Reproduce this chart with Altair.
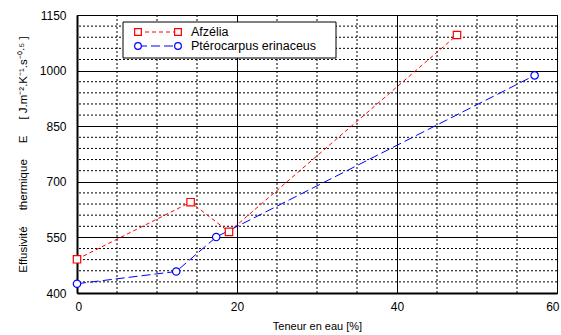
import altair as alt
import pandas as pd

FONT = "Liberation Sans"

# ---- data ----
series_names = ["Afzélia", "Ptérocarpus erinaceus"]
series_colors = ["#ff0000", "#0000ff"]
afz_x = [0, 14.2, 19.0, 47.5]
afz_y = [491, 645, 565, 1096]
pte_x = [0, 12.4, 17.4, 57.2]
pte_y = [425, 458, 551, 987]

x_major = [0, 20, 40, 60]
y_major = [400, 550, 700, 850, 1000, 1150]
x_minor = [5, 10, 15, 25, 30, 35, 45, 50, 55]
y_minor = [430, 460, 490, 520, 580, 610, 640, 670, 730, 760, 790, 820,
           880, 910, 940, 970, 1030, 1060, 1090, 1120]

df = pd.DataFrame({
    "serie": [series_names[0]] * len(afz_x) + [series_names[1]] * len(pte_x),
    "x": afz_x + pte_x,
    "y": afz_y + pte_y,
})

xs = alt.Scale(domain=[0, 60], nice=False, zero=False)
ys = alt.Scale(domain=[400, 1150], nice=False, zero=False)
cs = alt.Scale(domain=series_names, range=series_colors)

NB = "\u00a0"
y_title = ("Effusivité" + NB * 5 + "thermique" + NB * 5 + "E" + NB * 5 +
           "[" + NB + "J.m⁻².K⁻¹.s⁻⁰·⁵" + NB + "]")

x_axis = alt.Axis(values=x_major, grid=True, gridColor="#000000", gridWidth=1,
                  ticks=False, labelPadding=8, labelFontSize=12, labelFont=FONT,
                  labelColor="#000", domainColor="#000", domainWidth=2, format="d",
                  title="Teneur en eau [%]", titleFontSize=11, titleFont=FONT,
                  titleFontWeight="normal", titlePadding=8, titleColor="#000",
                  labelFlush=True, labelFlushOffset=2)
y_axis = alt.Axis(values=y_major, grid=True, gridColor="#000000", gridWidth=1,
                  ticks=False, labelPadding=11, labelFontSize=12, labelFont=FONT,
                  labelColor="#000", domainColor="#000", domainWidth=2, format="d",
                  title=y_title,
                  titleFontSize=11.5, titleFont=FONT, titleFontWeight="normal",
                  titlePadding=11, titleColor="#000", labelFlush=False)

one = pd.DataFrame({"k": [0]})

hminor = alt.Chart(pd.DataFrame({"v": y_minor})).mark_rule(
    color="#000", strokeDash=[2, 2], strokeWidth=1
).encode(y=alt.Y("v:Q", scale=ys, axis=y_axis))

vminor = alt.Chart(pd.DataFrame({"v": x_minor})).mark_rule(
    color="#000", strokeDash=[2, 2], strokeWidth=1
).encode(x=alt.X("v:Q", scale=xs, axis=x_axis))

lines = alt.Chart(df).mark_line(strokeWidth=1).encode(
    x=alt.X("x:Q", scale=xs, axis=x_axis),
    y=alt.Y("y:Q", scale=ys, axis=y_axis),
    color=alt.Color("serie:N", scale=cs, legend=None),
    strokeDash=alt.StrokeDash("serie:N", scale=alt.Scale(domain=series_names, range=[[4, 3], [9, 4]]), legend=None),
)

points = alt.Chart(df).mark_point(fill="white", fillOpacity=1, opacity=1, strokeWidth=1.2, size=55).encode(
    x=alt.X("x:Q", scale=xs, axis=x_axis),
    y=alt.Y("y:Q", scale=ys, axis=y_axis),
    stroke=alt.Stroke("serie:N", scale=cs, legend=None),
    shape=alt.Shape("serie:N", scale=alt.Scale(domain=series_names, range=["square", "circle"]), legend=None),
)

# ---- legend (decoration) ----
leg = [alt.Chart(one).mark_rect(fill="white", stroke="#000", strokeWidth=1).encode(
    x=alt.value(46), x2=alt.value(259), y=alt.value(7), y2=alt.value(43))]
rows = [(17, series_names[0], series_colors[0], [4, 3], "square"),
        (31, series_names[1], series_colors[1], [9, 4], "circle")]
for yy, name, col, dash, shp in rows:
    leg.append(alt.Chart(one).mark_rule(color=col, strokeDash=dash, strokeWidth=1).encode(
        x=alt.value(61), x2=alt.value(101), y=alt.value(yy)))
    for xx in (61, 101):
        leg.append(alt.Chart(one).mark_point(shape=shp, stroke=col, fill="white", fillOpacity=1,
                                             opacity=1, strokeWidth=1.2, size=45).encode(
            x=alt.value(xx), y=alt.value(yy)))
    leg.append(alt.Chart(one).mark_text(align="left", baseline="middle", fontSize=12.5,
                                        font=FONT, color="#000").encode(
        x=alt.value(114), y=alt.value(yy), text=alt.value(name)))

chart = alt.layer(hminor, vminor, lines, points, *leg).properties(
    width=480, height=278,
    padding={"left": 77, "top": 15, "right": 4, "bottom": 42},
    autosize=alt.AutoSizeParams(type="none"),
    background="white",
).configure_view(stroke="#000", strokeWidth=1)

chart.save("out.html", embed_options={"renderer": "svg", "actions": False})
